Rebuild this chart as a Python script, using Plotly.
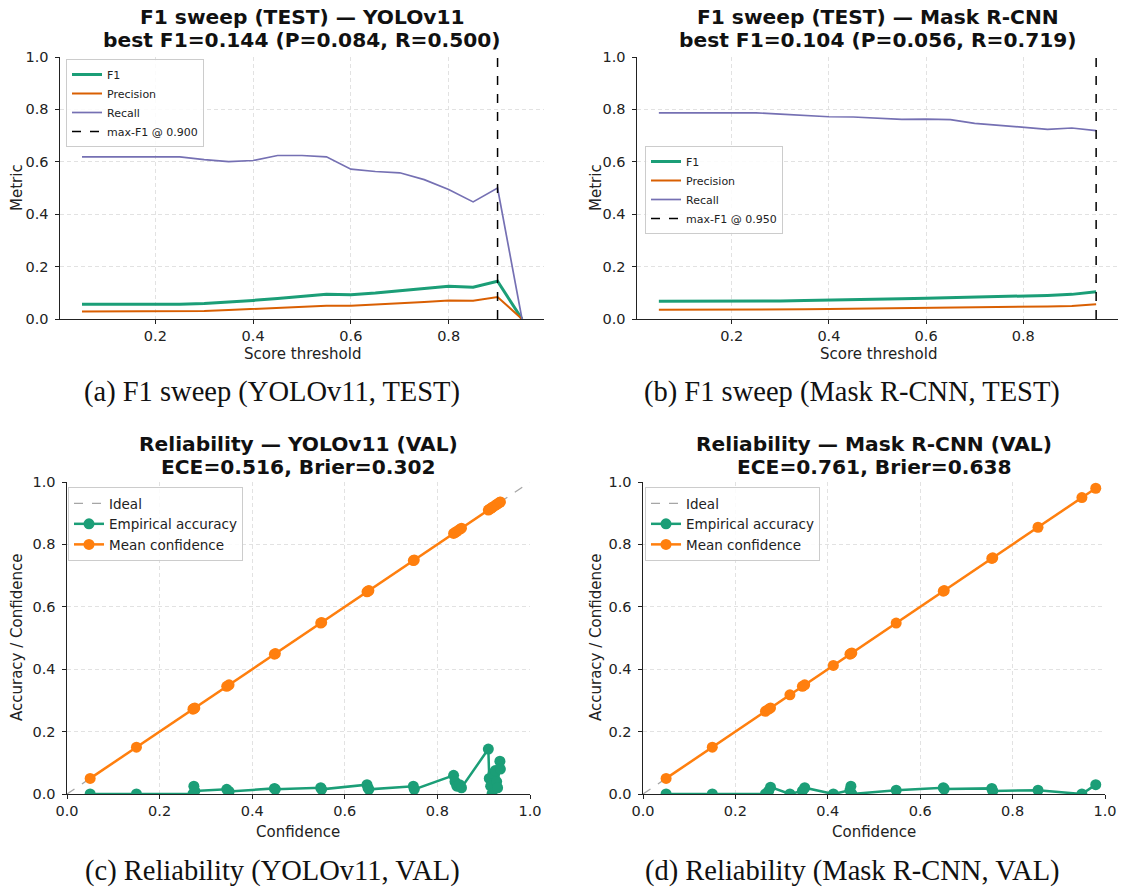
import plotly.graph_objects as go

W, H = 1125, 887

# ---------------- data ----------------
thresholds = [0.05, 0.10, 0.15, 0.20, 0.25, 0.30, 0.35, 0.40, 0.45, 0.50,
              0.55, 0.60, 0.65, 0.70, 0.75, 0.80, 0.85, 0.90, 0.95]

yolo_f1 = [0.056, 0.056, 0.056, 0.056, 0.056, 0.059, 0.064, 0.071, 0.078, 0.087,
           0.094, 0.093, 0.099, 0.108, 0.117, 0.125, 0.121, 0.144, 0.000]
yolo_precision = [0.029, 0.029, 0.029, 0.029, 0.029, 0.031, 0.034, 0.038, 0.042, 0.047,
                  0.051, 0.051, 0.055, 0.060, 0.065, 0.071, 0.070, 0.084, 0.000]
yolo_recall = [0.619, 0.619, 0.619, 0.619, 0.619, 0.608, 0.601, 0.605, 0.624, 0.624,
               0.619, 0.572, 0.563, 0.558, 0.532, 0.494, 0.447, 0.500, 0.000]
yolo_best_thr = 0.90

mask_f1 = [0.068, 0.068, 0.068, 0.068, 0.068, 0.069, 0.071, 0.072, 0.074, 0.075,
           0.077, 0.079, 0.081, 0.083, 0.085, 0.087, 0.090, 0.094, 0.104]
mask_precision = [0.035, 0.035, 0.035, 0.035, 0.035, 0.036, 0.037, 0.038, 0.039, 0.039,
                  0.040, 0.042, 0.043, 0.044, 0.045, 0.046, 0.048, 0.050, 0.056]
mask_recall = [0.787, 0.787, 0.787, 0.787, 0.787, 0.782, 0.778, 0.772, 0.771, 0.766,
               0.762, 0.763, 0.761, 0.747, 0.740, 0.732, 0.724, 0.729, 0.719]
mask_best_thr = 0.95

yolo_conf = [0.050, 0.150, 0.272, 0.274, 0.276, 0.345, 0.350, 0.448, 0.450, 0.548,
             0.550, 0.648, 0.650, 0.652, 0.748, 0.750, 0.835, 0.838, 0.842, 0.848,
             0.852, 0.910, 0.912, 0.915, 0.918, 0.920, 0.925, 0.928, 0.930, 0.935, 0.936]
yolo_acc = [0.000, 0.000, 0.000, 0.025, 0.010, 0.015, 0.008, 0.018, 0.015, 0.020,
            0.015, 0.030, 0.020, 0.015, 0.025, 0.015, 0.060, 0.040, 0.025, 0.030,
            0.020, 0.144, 0.050, 0.025, 0.000, 0.065, 0.075, 0.040, 0.020, 0.105, 0.080]

mask_conf = [0.050, 0.150, 0.265, 0.272, 0.276, 0.318, 0.345, 0.350, 0.412, 0.448,
             0.450, 0.452, 0.548, 0.650, 0.652, 0.755, 0.757, 0.855, 0.950, 0.980]
mask_acc = [0.000, 0.000, 0.000, 0.010, 0.022, 0.000, 0.010, 0.020, 0.000, 0.012,
            0.025, 0.000, 0.012, 0.020, 0.016, 0.018, 0.010, 0.012, 0.000, 0.030]

# ---------------- style ----------------
C_F1, C_P, C_R = "#1b9e77", "#d95f02", "#7570b3"
C_ACC, C_CONF = "#1b9e77", "#ff7f0e"
SANS = "DejaVu Sans"
SERIF = "Liberation Serif"


def px_x(x):
    return x / W


def px_y(y):
    return 1 - y / H


def xdom(a, b):
    return [a / W, b / W]


def ydom(top, bottom):
    return [1 - bottom / H, 1 - top / H]


fig = go.Figure()

# ---- F1 sweeps ----
for idx, (f1, prec, rec, best, leg) in enumerate([
        (yolo_f1, yolo_precision, yolo_recall, yolo_best_thr, "legend"),
        (mask_f1, mask_precision, mask_recall, mask_best_thr, "legend2")]):
    xa = "x" if idx == 0 else "x2"
    ya = "y" if idx == 0 else "y2"
    fig.add_trace(go.Scatter(x=thresholds, y=f1, mode="lines", name="F1",
                             line=dict(color=C_F1, width=3), xaxis=xa, yaxis=ya, legend=leg))
    fig.add_trace(go.Scatter(x=thresholds, y=prec, mode="lines", name="Precision",
                             line=dict(color=C_P, width=2), xaxis=xa, yaxis=ya, legend=leg))
    fig.add_trace(go.Scatter(x=thresholds, y=rec, mode="lines", name="Recall",
                             line=dict(color=C_R, width=1.7), xaxis=xa, yaxis=ya, legend=leg))
    fig.add_trace(go.Scatter(x=[best, best], y=[0, 1], mode="lines",
                             name=f"max-F1 @ {best:.3f}",
                             line=dict(color="black", width=1.5, dash="dash"),
                             xaxis=xa, yaxis=ya, legend=leg))

# ---- reliability diagrams ----
for idx, (conf, acc, leg) in enumerate([
        (yolo_conf, yolo_acc, "legend3"),
        (mask_conf, mask_acc, "legend4")]):
    xa = "x3" if idx == 0 else "x4"
    ya = "y3" if idx == 0 else "y4"
    fig.add_trace(go.Scatter(x=[0, 1], y=[0, 1], mode="lines", name="Ideal",
                             line=dict(color="rgba(128,128,128,0.7)", width=1.3, dash="dash"),
                             xaxis=xa, yaxis=ya, legend=leg))
    fig.add_trace(go.Scatter(x=conf, y=acc, mode="lines+markers", name="Empirical accuracy",
                             line=dict(color=C_ACC, width=2.5), marker=dict(color=C_ACC, size=11),
                             xaxis=xa, yaxis=ya, legend=leg))
    fig.add_trace(go.Scatter(x=conf, y=conf, mode="lines+markers", name="Mean confidence",
                             line=dict(color=C_CONF, width=2.5), marker=dict(color=C_CONF, size=11),
                             xaxis=xa, yaxis=ya, legend=leg))

axis_common = dict(showline=True, linecolor="#222", linewidth=1.2, mirror=False,
                   ticks="outside", ticklen=3.5, tickcolor="#222", tickwidth=1,
                   tickfont=dict(family=SANS, size=14.5, color="#222"),
                   showgrid=True, gridcolor="#e2e2e2", griddash="4px,3px", gridwidth=1,
                   zeroline=False, automargin=False)

sweep_x = dict(range=[0.005, 0.995], tickvals=[0.2, 0.4, 0.6, 0.8],
               ticktext=["0.2", "0.4", "0.6", "0.8"])
unit_ticks = [0, 0.2, 0.4, 0.6, 0.8, 1.0]
unit_text = ["0.0", "0.2", "0.4", "0.6", "0.8", "1.0"]
unit_axis = dict(range=[0, 1], tickvals=unit_ticks, ticktext=unit_text)
y_extra = dict(ticklabelstandoff=4)

layout_axes = {
    "xaxis": dict(domain=xdom(60, 544), anchor="y", **sweep_x, **axis_common),
    "yaxis": dict(domain=ydom(57, 319), anchor="x", **unit_axis, **axis_common, **y_extra),
    "xaxis2": dict(domain=xdom(637, 1118), anchor="y2", **sweep_x, **axis_common),
    "yaxis2": dict(domain=ydom(57, 319), anchor="x2", **unit_axis, **axis_common, **y_extra),
    "xaxis3": dict(domain=xdom(67, 530), anchor="y3", **unit_axis, **axis_common),
    "yaxis3": dict(domain=ydom(482, 794), anchor="x3", **unit_axis, **axis_common, **y_extra),
    "xaxis4": dict(domain=xdom(643, 1105), anchor="y4", **unit_axis, **axis_common),
    "yaxis4": dict(domain=ydom(482, 794), anchor="x4", **unit_axis, **axis_common, **y_extra),
}


def legend_box(x, y, size):
    return dict(x=px_x(x), y=px_y(y), xanchor="left", yanchor="top",
                bgcolor="rgba(255,255,255,0.85)", bordercolor="#cccccc", borderwidth=1,
                font=dict(family=SANS, size=size, color="#222"), itemwidth=30,
                tracegroupgap=0)


annotations = []


def text(x, y, s, size, family=SANS, angle=0, color="#111"):
    annotations.append(dict(x=px_x(x), y=px_y(y), xref="paper", yref="paper",
                            text=s, showarrow=False, textangle=angle,
                            xanchor="center", yanchor="middle",
                            font=dict(family=family, size=size, color=color)))


# subplot titles
text(302, 17, "<b>F1 sweep (TEST) — YOLOv11</b>", 20.2)
text(302, 40, "<b>best F1=0.144 (P=0.084, R=0.500)</b>", 20.2)
text(878, 17, "<b>F1 sweep (TEST) — Mask R-CNN</b>", 20.2)
text(878, 40, "<b>best F1=0.104 (P=0.056, R=0.719)</b>", 20.2)
text(298, 444, "<b>Reliability — YOLOv11 (VAL)</b>", 20.2)
text(298, 467, "<b>ECE=0.516, Brier=0.302</b>", 20.2)
text(874, 444, "<b>Reliability — Mask R-CNN (VAL)</b>", 20.2)
text(874, 467, "<b>ECE=0.761, Brier=0.638</b>", 20.2)

# axis titles
text(302, 354, "Score threshold", 15, color="#222")
text(878, 354, "Score threshold", 15, color="#222")
text(298, 832, "Confidence", 15, color="#222")
text(874, 832, "Confidence", 15, color="#222")
text(17, 188, "Metric", 15, angle=-90, color="#222")
text(596, 188, "Metric", 15, angle=-90, color="#222")
text(17, 638, "Accuracy / Confidence", 15, angle=-90, color="#222")
text(596, 638, "Accuracy / Confidence", 15, angle=-90, color="#222")

# panel captions
text(272, 392, "(a) F1 sweep (YOLOv11, TEST)", 28.5, family=SERIF)
text(852, 392, "(b) F1 sweep (Mask R-CNN, TEST)", 28.5, family=SERIF)
text(272, 871, "(c) Reliability (YOLOv11, VAL)", 28.5, family=SERIF)
text(852, 871, "(d) Reliability (Mask R-CNN, VAL)", 28.5, family=SERIF)

fig.update_layout(
    width=W, height=H,
    margin=dict(l=0, r=0, t=0, b=0, autoexpand=False),
    paper_bgcolor="white", plot_bgcolor="white",
    showlegend=True,
    legend=legend_box(66, 59, 11),
    legend2=legend_box(645, 146, 11),
    legend3=legend_box(68, 487, 13.5),
    legend4=legend_box(645, 487, 13.5),
    annotations=annotations,
    **layout_axes,
)

fig.write_html("out.html")
